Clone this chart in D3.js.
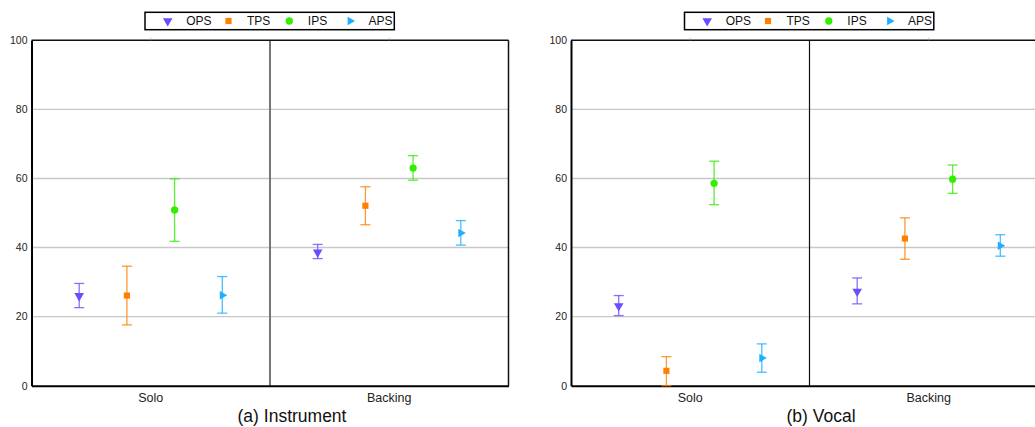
<!DOCTYPE html>
<html>
<head>
<meta charset="utf-8">
<script src="https://cdn.jsdelivr.net/npm/d3@7"></script>
<style>
  html, body { margin: 0; padding: 0; background: #fff; }
  svg { display: block; font-family: 'Liberation Sans', Arial, sans-serif; }
</style>
</head>
<body>
<svg id="chart" width="1035" height="427"></svg>
<script>
// categories / series
const categories = ['Solo', 'Backing']
const series = ['OPS', 'TPS', 'IPS', 'APS']
const yTicks = [0, 20, 40, 60, 80, 100]

// (a) Instrument: [mean, lower, upper] per category, per series
const instrumentOPS = [[26.0, 22.6, 29.6], [38.6, 36.8, 40.9]]
const instrumentTPS = [[26.1, 17.6, 34.6], [52.1, 46.6, 57.6]]
const instrumentIPS = [[50.9, 41.8, 59.9], [63.0, 59.5, 66.6]]
const instrumentAPS = [[26.2, 21.0, 31.6], [44.2, 40.7, 47.8]]

// (b) Vocal
const vocalOPS = [[23.1, 20.3, 26.1], [27.3, 23.7, 31.2]]
const vocalTPS = [[4.3, 0.0, 8.4], [42.6, 36.6, 48.6]]
const vocalIPS = [[58.6, 52.4, 65.0], [59.8, 55.7, 63.9]]
const vocalAPS = [[8.0, 3.9, 12.1], [40.5, 37.5, 43.7]]

const COLORS = {
  OPS: '#6a4dff',
  TPS: '#ff8000',
  IPS: '#33ee00',
  APS: '#1caeff'
}

// 記号: 種類, 面積, 回転
const SYMBOLS = {
  OPS: { type: d3.symbolTriangle, size: 40, rotate: 180 },
  TPS: { type: d3.symbolSquare, size: 38, rotate: 0 },
  IPS: { type: d3.symbolCircle, size: 42, rotate: 0 },
  APS: { type: d3.symbolTriangle, size: 32, rotate: 90 }
}

const svg = d3.select('#chart')

const panels = [
  {
    left: 31.5, caption: '(a) Instrument', captionX: 292, dividerColor: '#777', dividerWidth: 2,
    data: { OPS: instrumentOPS, TPS: instrumentTPS, IPS: instrumentIPS, APS: instrumentAPS }
  },
  {
    left: 571, caption: '(b) Vocal', captionX: 821, dividerColor: '#111', dividerWidth: 1.2,
    data: { OPS: vocalOPS, TPS: vocalTPS, IPS: vocalIPS, APS: vocalAPS }
  }
]

const plotW = 477
const plotTop = 40.3
const plotBottom = 385.7

function symbolPath(name) {
  const s = SYMBOLS[name]
  return d3.symbol().type(s.type).size(s.size)()
}

function drawPanel(p) {
  const g = svg.append('g')

  const x = d3.scaleBand().domain(categories).range([p.left, p.left + plotW]).padding(0)
  const bw = x.bandwidth()
  const xs = d3.scalePoint().domain(series).range([bw / 5, bw * 4 / 5])
  const y = d3.scaleLinear().domain([0, 100]).range([plotBottom, plotTop])

  // グリッド
  g.append('g')
    .selectAll('line')
    .data(yTicks.filter(t => t > 0 && t < 100))
    .enter()
    .append('line')
    .attr('x1', p.left)
    .attr('x2', p.left + plotW)
    .attr('y1', d => y(d))
    .attr('y2', d => y(d))
    .attr('stroke', '#c8c8c8')
    .attr('stroke-width', 1.4)

  // カテゴリ区切り線
  g.append('line')
    .attr('x1', x('Backing'))
    .attr('x2', x('Backing'))
    .attr('y1', plotTop)
    .attr('y2', plotBottom)
    .attr('stroke', p.dividerColor)
    .attr('stroke-width', p.dividerWidth)

  // 枠
  g.append('line').attr('x1', p.left).attr('x2', p.left + plotW).attr('y1', plotTop).attr('y2', plotTop)
    .attr('stroke', '#111').attr('stroke-width', 1.5)
  g.append('line').attr('x1', p.left + plotW).attr('x2', p.left + plotW).attr('y1', plotTop).attr('y2', plotBottom)
    .attr('stroke', '#111').attr('stroke-width', 1.5)

  // 上の小さな目盛
  g.append('g')
    .selectAll('line')
    .data(categories)
    .enter()
    .append('line')
    .attr('x1', d => x(d) + bw / 2)
    .attr('x2', d => x(d) + bw / 2)
    .attr('y1', plotTop - 2)
    .attr('y2', plotTop)
    .attr('stroke', '#999')
    .attr('stroke-width', 1)

  // Y軸
  const yAxis = g.append('g')
    .attr('transform', `translate(${p.left},0)`)
    .call(d3.axisLeft(y).tickValues(yTicks).tickSize(0).tickPadding(4))
  yAxis.select('.domain').attr('stroke', '#000').attr('stroke-width', 2)
  yAxis.selectAll('text').attr('font-size', 10.5).attr('fill', '#222')
    .attr('font-family', "'Liberation Sans', Arial, sans-serif")

  // X軸
  const xAxis = g.append('g')
    .attr('transform', `translate(0,${plotBottom})`)
    .call(d3.axisBottom(x).tickSize(0).tickPadding(7))
  xAxis.select('.domain').attr('stroke', '#000').attr('stroke-width', 2)
  xAxis.selectAll('text').attr('font-size', 12.5).attr('fill', '#222')
    .attr('font-family', "'Liberation Sans', Arial, sans-serif")

  // エラーバーとマーカー
  series.forEach(name => {
    const color = COLORS[name]
    const rows = p.data[name].map((v, i) => ({ cat: categories[i], mean: v[0], lo: v[1], hi: v[2] }))
    const cx = d => x(d.cat) + xs(name)

    const grp = g.append('g')
    grp.selectAll('line.bar').data(rows).enter().append('line')
      .attr('x1', cx).attr('x2', cx)
      .attr('y1', d => y(d.lo)).attr('y2', d => y(d.hi))
      .attr('stroke', color).attr('stroke-width', 1.3).attr('stroke-opacity', 0.8)
    ;['lo', 'hi'].forEach(k => {
      grp.selectAll(`line.cap-${k}`).data(rows).enter().append('line')
        .attr('x1', d => cx(d) - 5).attr('x2', d => cx(d) + 5)
        .attr('y1', d => y(d[k])).attr('y2', d => y(d[k]))
        .attr('stroke', color).attr('stroke-width', 1.3).attr('stroke-opacity', 0.8)
    })
    grp.selectAll('path').data(rows).enter().append('path')
      .attr('d', symbolPath(name))
      .attr('transform', d => `translate(${cx(d)},${y(d.mean)}) rotate(${SYMBOLS[name].rotate})`)
      .attr('fill', color)
  })

  // 凡例
  const lg = g.append('g').attr('transform', `translate(${p.left + 113.5},12.3)`)
  lg.append('rect')
    .attr('width', 249.3)
    .attr('height', 17.4)
    .attr('fill', '#fff')
    .attr('stroke', '#000')
    .attr('stroke-width', 1.5)
  const item = lg.selectAll('g.item').data(series).enter().append('g')
    .attr('transform', (d, i) => `translate(${22.7 + i * 60.8},8.7)`)
  item.append('path')
    .attr('d', d => symbolPath(d))
    .attr('transform', d => `rotate(${SYMBOLS[d].rotate})`)
    .attr('fill', d => COLORS[d])
  item.append('text')
    .attr('x', 18.5)
    .attr('y', 4.3)
    .attr('font-size', 12)
    .attr('fill', '#111')
    .text(d => d)

  // キャプション
  g.append('text')
    .attr('x', p.captionX)
    .attr('y', 421.5)
    .attr('text-anchor', 'middle')
    .attr('font-size', 17.5)
    .attr('fill', '#111')
    .text(p.caption)
}

panels.forEach(drawPanel)
</script>
</body>
</html>
